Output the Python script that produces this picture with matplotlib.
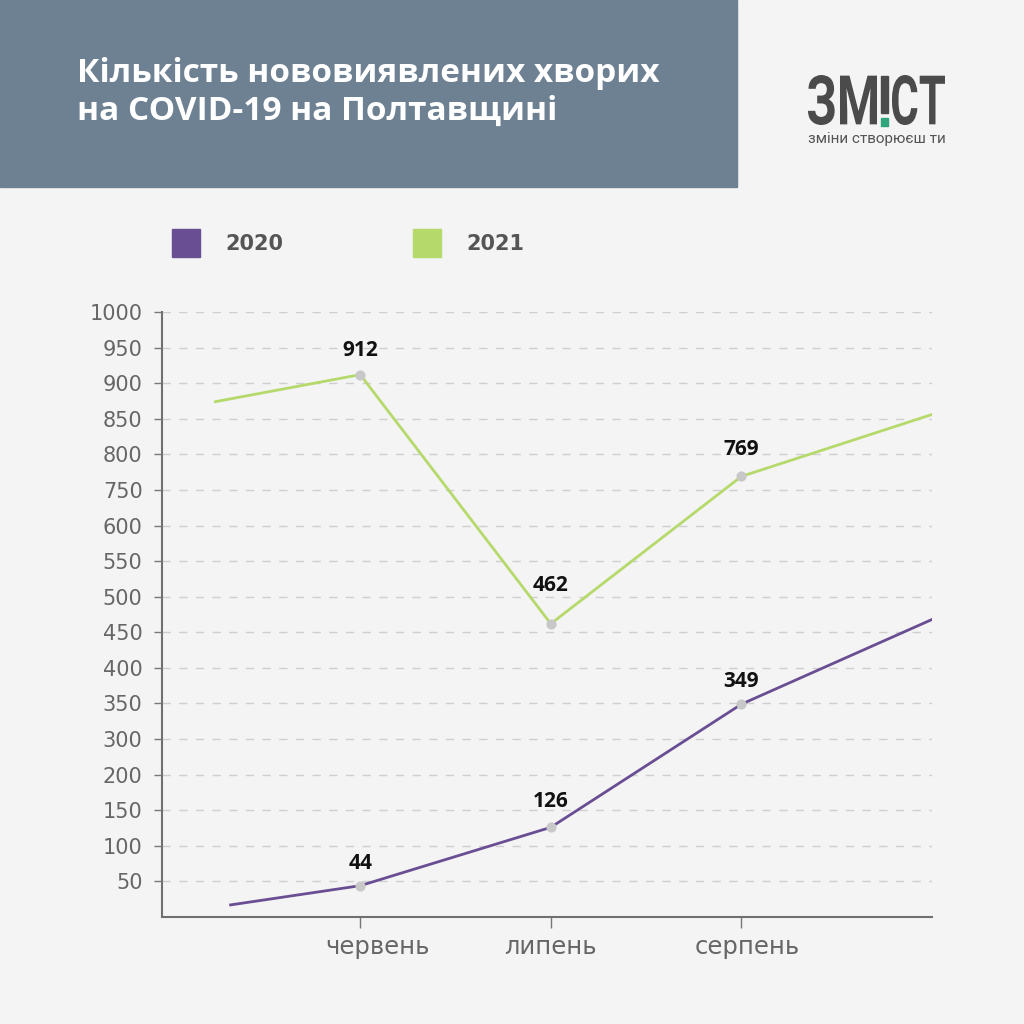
import numpy as np
import matplotlib.pyplot as plt
from matplotlib.patches import Rectangle, PathPatch
from matplotlib.textpath import TextPath
from matplotlib.font_manager import FontProperties
from matplotlib.transforms import Affine2D, ScaledTranslation

# шкала осі Y на інфографіці нерівномірна: підписи стоять з однаковим кроком
y_labels = [0, 50, 100, 150, 200, 300, 350, 400, 450, 500, 550, 600, 750, 800, 850, 900, 950, 1000]
months = ['червень', 'липень', 'серпень']
month_x = [1, 2, 3]

# крайні точки - обрізані сусідні місяці (травень / вересень)
x_2020 = [0.32, 1, 2, 3, 4.0]
v_2020 = [17, 44, 126, 349, 468]
x_2021 = [0.24, 1, 2, 3, 4.0]
v_2021 = [874, 912, 462, 769, 856]

bg = '#f4f4f4'
purple = '#6a4e93'
green = '#b5d96b'
grey_txt = '#666666'
font = 'Open Sans'
W = 1024

pos = np.arange(len(y_labels), dtype=float)
vals = np.array(y_labels, dtype=float)


def forward(v):
    return np.interp(v, vals, pos)


def inverse(p):
    return np.interp(p, pos, vals)


def fx(px):
    return px / W


def fy(py):
    return 1 - py / W


def logo_text(fig, s, x0, x1, y_top, y_bot, color):
    # стиснутий жирний шрифт логотипу: масштабуємо контур тексту під потрібний бокс
    tp = TextPath((0, 0), s, size=100, prop=FontProperties(family='Roboto', weight='bold'))
    ext = tp.get_extents()
    sx = (x1 - x0) / ext.width / W
    sy = (y_bot - y_top) / ext.height / W
    tr = Affine2D().translate(-ext.x0, -ext.y0).scale(sx, sy).translate(fx(x0), fy(y_bot))
    fig.patches.append(PathPatch(tr.transform_path(tp), transform=fig.transFigure,
                                 color=color, lw=0))


fig = plt.figure(figsize=(10.24, 10.24), dpi=100, facecolor=bg)

# шапка
fig.patches.append(Rectangle((0, fy(187)), fx(737), 187 / W,
                             transform=fig.transFigure, color='#6d8193', zorder=0))
fig.text(fx(77), fy(74), 'Кількість нововиявлених хворих', color='white',
         fontsize=24, fontweight='bold', family=font, va='center')
fig.text(fx(77), fy(111), 'на COVID-19 на Полтавщині', color='white',
         fontsize=24, fontweight='bold', family=font, va='center')

# логотип
logo_c = '#4b4b4b'
logo_text(fig, 'ЗМ', 808, 877, 75, 125, logo_c)
logo_text(fig, 'СТ', 892, 945, 75, 125, logo_c)
fig.patches.append(Rectangle((fx(881), fy(113)), 7 / W, 37 / W,
                             transform=fig.transFigure, color=logo_c))
fig.patches.append(Rectangle((fx(881), fy(126)), 7 / W, 8 / W,
                             transform=fig.transFigure, color='#2ea57a'))
fig.text(fx(877), fy(139), 'зміни створюєш ти', color='#555555', fontsize=11,
         family='Roboto', ha='center', va='center')

# легенда
for lx, c, lab in [(172, purple, '2020'), (413, green, '2021')]:
    fig.patches.append(Rectangle((fx(lx), fy(257)), 28 / W, 28 / W,
                                 transform=fig.transFigure, color=c))
    fig.text(fx(lx + 53), fy(244), lab, color='#555555', fontsize=15,
             fontweight='bold', family='DejaVu Sans', va='center')

ax = fig.add_axes([fx(162), fy(917), 770 / W, 605 / W])
ax.set_facecolor(bg)
ax.set_yscale('function', functions=(forward, inverse))
ax.set_ylim(0, 1000)
ax.set_xlim(-0.04, 4.0)

ax.plot(x_2021, v_2021, color=green, lw=2, zorder=3)
ax.plot(x_2020, v_2020, color=purple, lw=2, zorder=3)
ax.scatter(month_x, v_2021[1:4], s=40, color='#c8c8c8', zorder=4)
ax.scatter(month_x, v_2020[1:4], s=40, color='#c8c8c8', zorder=4)
# відступи підписів над точками (pt), як на оригіналі
offs = [10, 20, 12, 8.5, 11, 9]
for x, v, o in zip(month_x + month_x, v_2021[1:4] + v_2020[1:4], offs):
    ax.annotate(str(v), (x, v), xytext=(0, o), textcoords='offset points', ha='center',
                va='bottom', fontsize=15, fontweight='bold', family=font, color='#111111')

ax.set_yticks(y_labels[1:])
ax.set_yticklabels([str(v) for v in y_labels[1:]], fontsize=15, color=grey_txt,
                   family='DejaVu Sans')
ax.set_xticks(month_x)
ax.set_xticklabels(months, fontsize=17.5, color=grey_txt, family='DejaVu Sans')
ax.tick_params(axis='y', length=6, width=1, color='#777777', pad=8)
ax.tick_params(axis='x', length=8, width=1, color='#777777', pad=5)
for lab, dx in zip(ax.get_xticklabels(), [17, 0, 6]):
    lab.set_transform(lab.get_transform() + ScaledTranslation(dx / 100, 0, fig.dpi_scale_trans))
ax.grid(axis='y', linestyle=(0, (6, 6)), color='#cfcfcf', lw=1)
for s in ['top', 'right']:
    ax.spines[s].set_visible(False)
for s in ['left', 'bottom']:
    ax.spines[s].set_color('#707070')
    ax.spines[s].set_linewidth(1.5)

fig.savefig('out.png', dpi=100, facecolor=bg)
